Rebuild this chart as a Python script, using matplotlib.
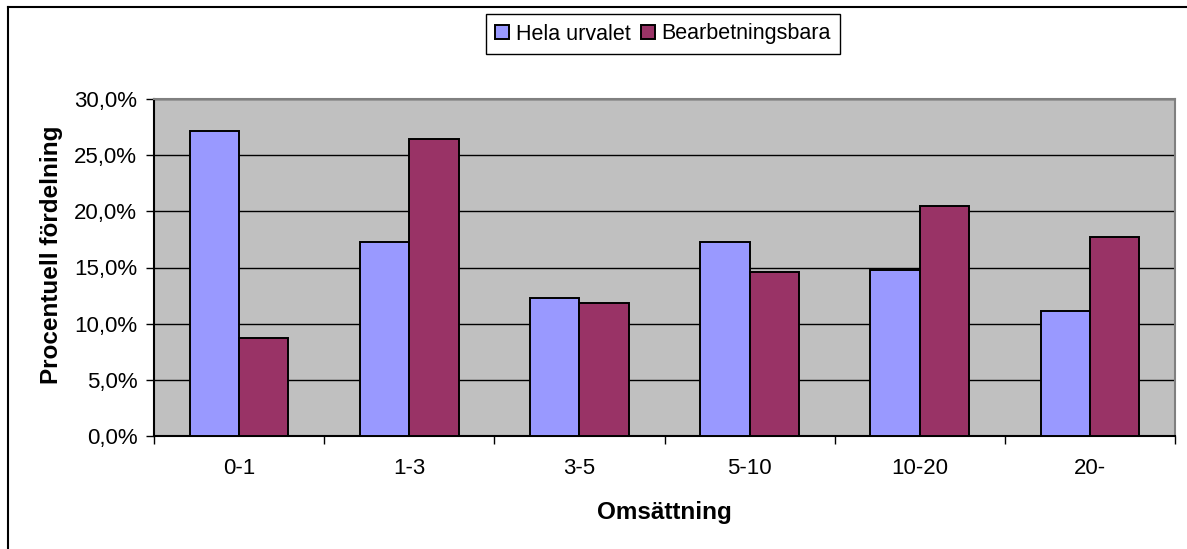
import matplotlib
matplotlib.use("Agg")
import matplotlib.pyplot as plt
import numpy as np
from matplotlib.ticker import FuncFormatter, FixedLocator
from matplotlib.lines import Line2D

categories = ["0-1", "1-3", "3-5", "5-10", "10-20", "20-"]
hela_urvalet = [27.2, 17.3, 12.3, 17.3, 14.8, 11.1]
bearbetningsbara = [8.7, 26.5, 11.8, 14.6, 20.5, 17.7]
series_names = ["Hela urvalet", "Bearbetningsbara"]
y_ticks = [0, 5, 10, 15, 20, 25, 30]

plt.rcParams['font.family'] = ['Liberation Sans', 'DejaVu Sans']

W, H = 1187, 549
fig = plt.figure(figsize=(W / 100, H / 100), dpi=100)
ax = fig.add_axes([154 / W, 1 - 435.7 / H, (1175 - 154) / W, (435.7 - 99.3) / H])

x = np.arange(len(categories))
bw = 0.29
ax.bar(x - bw / 2, hela_urvalet, bw, color="#9999FF", edgecolor="black", linewidth=1.4,
       label=series_names[0], zorder=3)
ax.bar(x + bw / 2, bearbetningsbara, bw, color="#993366", edgecolor="black", linewidth=1.4,
       label=series_names[1], zorder=3)

ax.set_facecolor("#C0C0C0")
ax.set_xlim(-0.5, len(categories) - 0.5)
ax.set_ylim(0, 30)
ax.set_yticks(y_ticks)
ax.yaxis.set_major_formatter(FuncFormatter(lambda v, p: f"{v:.1f}".replace(".", ",") + "%"))
ax.yaxis.grid(True, color="black", linewidth=1.0, zorder=1)
ax.set_axisbelow(True)

ax.set_xticks(x)
ax.set_xticklabels(categories)
ax.tick_params(axis="x", which="major", length=0, pad=16, labelsize=16)
ax.xaxis.set_minor_locator(FixedLocator(np.arange(-0.5, len(categories), 1.0)))
ax.tick_params(axis="x", which="minor", length=6, width=1, direction="out", color="black")
ax.tick_params(axis="y", length=6, width=1, direction="out", labelsize=16, pad=6)

for s in ["top", "right"]:
    ax.spines[s].set_color("#808080")
    ax.spines[s].set_linewidth(1.5)
for s in ["left", "bottom"]:
    ax.spines[s].set_color("black")
    ax.spines[s].set_linewidth(1.5)

ax.set_ylabel("Procentuell fördelning", fontsize=17.5, fontweight="bold", labelpad=10)
ax.yaxis.set_label_coords(-0.089, 0.537)
ax.set_xlabel("Omsättning", fontsize=17.5, fontweight="bold", labelpad=16)

leg = fig.legend(loc="center", bbox_to_anchor=(663 / W, 1 - 34 / H), ncol=2, fontsize=15.5,
                 frameon=True, fancybox=False, edgecolor="black", framealpha=1,
                 handlelength=0.65, handleheight=0.65, handletextpad=0.3, columnspacing=0.5,
                 borderpad=0.42)
leg.get_frame().set_linewidth(1.0)

# outer frame (left and top edges)
fig.add_artist(Line2D([8 / W, 8 / W], [0, 1 - 7 / H], color="black", linewidth=1.5, transform=fig.transFigure))
fig.add_artist(Line2D([8 / W, 1], [1 - 7 / H, 1 - 7 / H], color="black", linewidth=1.5, transform=fig.transFigure))

fig.savefig("out.png", dpi=100)
